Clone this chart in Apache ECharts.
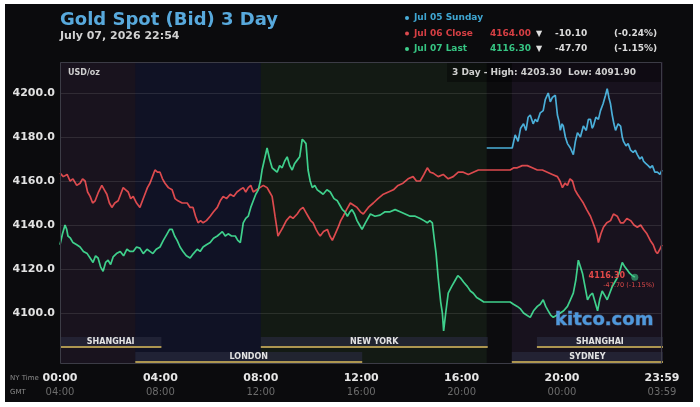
<!DOCTYPE html>
<html><head><meta charset="utf-8">
<script src="https://cdn.jsdelivr.net/npm/echarts@6/dist/echarts.min.js"></script>
<style>body{margin:0;background:#fff}#bg{position:absolute;left:5px;top:4px;width:688px;height:398px;background:#0b0b0d}#c{position:absolute;left:0;top:0;width:700px;height:407px}</style>
</head><body><div id="bg"></div><div id="c"></div>
<script>
// ---- data (minutes from NY 00:00, price USD/oz) ----
const blueT = [1020,1081,1088,1095,1101,1108,1114,1119,1124,1131,1136,1141,1148,1155,1160,1167,1172,1177,1184,1189,1193,1196,1200,1203,1208,1213,1220,1227,1232,1237,1244,1251,1258,1263,1268,1272,1275,1281,1287,1292,1298,1304,1308,1312,1316,1320,1324,1328,1334,1340,1344,1347,1353,1358,1364,1370,1375,1380,1386,1391,1395,1400,1406,1411,1416,1422,1428,1434,1439];
const blueV = [4175,4175,4181,4178,4184,4186,4183,4189,4190,4186,4188,4187,4191,4192,4197,4200,4196,4198,4199,4190,4187,4183,4186,4185,4180,4177,4175,4172,4178,4182,4180,4185,4183,4188,4188,4184,4185,4189,4188,4192,4195,4199,4202,4198,4195,4190,4186,4183,4186,4185,4180,4178,4176,4177,4174,4173,4174,4172,4170,4171,4169,4168,4167,4166,4167,4164,4164,4163,4165];

const redT = [0,8,17,24,31,40,48,54,60,66,72,78,84,92,100,106,112,118,124,131,139,145,151,157,163,169,175,183,191,197,203,209,215,221,227,233,239,245,251,259,268,275,282,292,298,304,311,318,324,330,336,342,350,359,367,376,383,390,398,407,415,423,430,438,444,450,456,462,470,478,486,495,501,507,511,514,518,521,527,533,541,550,557,567,574,581,587,593,599,605,612,618,622,630,639,645,651,658,665,671,677,685,694,702,710,718,725,737,749,760,773,785,797,808,820,832,844,852,861,870,878,885,892,904,916,928,940,952,964,976,988,1000,1012,1076,1085,1093,1105,1117,1129,1141,1153,1165,1177,1189,1195,1201,1207,1213,1219,1225,1231,1237,1244,1251,1259,1268,1274,1280,1284,1287,1293,1299,1307,1316,1323,1332,1340,1347,1355,1364,1372,1380,1388,1395,1403,1411,1418,1424,1428,1434,1439];
const redV = [4163.6,4162,4163,4160,4161,4158,4159,4161,4160,4155,4153,4150,4151,4155,4158,4156,4154,4150,4148,4150,4151,4154,4157,4156,4155,4152,4153,4150,4148,4151,4154,4157,4159,4162,4165,4164,4164,4161,4159,4157,4156,4152,4151,4150,4150,4150,4148,4148,4144,4141,4142,4141,4142,4144,4146,4148,4151,4153,4152,4154,4153,4155,4156,4157,4155,4157,4158,4155,4156,4157,4158,4157,4155,4153,4148,4144,4139,4135,4137,4139,4142,4144,4143,4145,4147,4148,4146,4144,4142,4141,4138,4136,4135,4137,4138,4135,4133,4136,4139,4142,4144,4147,4150,4149,4148,4146,4145,4148,4150,4152,4154,4155,4156,4158,4159,4161,4162,4160,4160,4163,4166,4164,4163.6,4162,4163,4161,4162,4164,4164,4163,4164,4165,4165,4165,4166,4166,4167,4167,4166,4165,4165,4164,4163,4162,4160,4157,4159,4158,4161,4160,4156,4154,4152,4150,4147,4144,4141,4138,4135,4132,4136,4139,4141,4142,4145,4144,4141,4141,4143,4142,4140,4139,4140,4138,4136,4133,4131,4128,4127,4129,4131];

const greenT = [0,6,12,16,19,25,31,40,48,56,65,72,79,85,91,97,103,109,115,121,127,135,144,152,160,167,175,183,191,199,208,215,222,230,239,247,256,262,268,274,280,287,294,302,311,319,328,335,342,350,359,367,376,382,388,395,402,410,419,425,431,435,438,444,450,456,462,468,474,479,483,489,495,501,507,513,519,525,531,537,543,549,555,561,567,573,579,584,588,593,598,603,609,615,622,629,638,646,655,663,669,675,681,687,693,698,704,710,716,722,730,742,753,765,777,789,801,813,825,837,849,861,870,878,884,890,895,899,904,910,914,917,922,928,936,945,951,957,965,974,981,988,996,1005,1013,1021,1076,1084,1093,1100,1108,1116,1124,1132,1141,1148,1155,1161,1167,1173,1179,1187,1196,1204,1213,1220,1227,1233,1239,1244,1249,1255,1261,1267,1273,1279,1285,1290,1296,1302,1308,1314,1320,1326,1332,1338,1344,1350,1356,1362,1368,1374];
const greenV = [4131,4136,4140,4138,4135,4134,4132,4131,4130,4128,4127,4125,4123,4126,4125,4121,4119,4123,4124,4122,4125.5,4127,4128,4126,4129,4128,4128,4130,4129.5,4127,4129,4128,4127,4129,4130,4133,4136,4138,4138,4135,4133,4130,4128,4126,4125,4127,4129,4128,4130,4131,4132,4134,4135,4136,4137,4135,4136,4135,4135,4133,4132,4137,4141,4143,4144,4148,4151,4154,4156,4160,4165,4170,4175,4170,4166,4165,4164,4167,4166,4169,4171,4167,4165,4168,4169.5,4171,4179,4178,4177,4165,4160,4157,4158,4156,4155,4154,4156,4155,4152,4151,4149,4147,4146,4144,4146,4147,4145,4142,4140,4138,4141,4145,4144,4144.5,4146,4146,4147,4146,4145,4144,4144,4143,4142,4141,4142,4141,4133,4127,4116,4105,4100,4091.9,4100,4109,4112,4115,4117,4116,4114,4112,4110,4109,4107,4106,4105,4105,4105,4104,4103,4102,4100,4099,4098,4101,4103,4104,4106,4103,4101,4099,4098,4099,4100,4101,4103,4106,4109,4115,4124,4121,4118,4112,4106,4108,4109,4105,4101,4106,4110,4108,4106,4109,4112,4114,4116,4119,4123,4121,4119.5,4118,4117,4116.3];

const seriesNames = ['Jul 05 Sunday', 'Jul 06 Close', 'Jul 07 Last'];
const legendPrices = ['', '4164.00', '4116.30'];
const legendChanges = ['', '-10.10', '-47.70'];
const legendPcts = ['', '(-0.24%)', '(-1.15%)'];
const lastLabel = ['4116.30', '-47.70 (-1.15%)'];
const highLowText = '3 Day - High: 4203.30  Low: 4091.90';

const yTicks = [4100, 4120, 4140, 4160, 4180, 4200];
const xTickStep = 240;

const sessionNames = ['SHANGHAI', 'LONDON', 'NEW YORK', 'SYDNEY', 'SHANGHAI'];
const sessionStart = [0, 180, 480, 1080, 1140];
const sessionEnd = [240, 720, 1020, 1439, 1439];
const sessionRow = [0, 1, 0, 1, 0];

const zoneStart = [0, 180, 480, 1020, 1080];
const zoneEnd = [180, 480, 1020, 1080, 1439];
const zoneColors = ['#19131e', '#101225', '#131a14', '#0c0c0e', '#18121e'];

const colBlue = '#4aaed8', colRed = '#dc4a4e', colGreen = '#3fd08c';
const FONT = 'DejaVu Sans';

const zip = (t, v) => t.map((x, i) => [x, v[i]]);
const hhmm = m => String(Math.floor(m / 60) % 24).padStart(2, '0') + ':' + String(m % 60).padStart(2, '0');

const PLOT_TOP = 62, PLOT_BOT = 363;

const chart = echarts.init(document.getElementById('c'), null, {renderer: 'canvas'});

const legendGraphics = [];
const legendCols = [colBlue, colRed, colGreen];
const legendTextCols = ['#3fa6d2', '#d63f44', '#36c583'];
seriesNames.forEach((n, i) => {
  const y = 18 + i * 15.5;
  legendGraphics.push({type: 'circle', shape: {cx: 407, cy: y, r: 2}, style: {fill: legendCols[i]}, z: 20});
  legendGraphics.push({type: 'text', x: 414, y: y, style: {text: n, fill: legendTextCols[i], font: 'bold 9px ' + FONT, textVerticalAlign: 'middle'}, z: 20});
  if (legendPrices[i]) {
    legendGraphics.push({type: 'text', x: 490, y: y, style: {text: legendPrices[i], fill: legendTextCols[i], font: 'bold 9px ' + FONT, textVerticalAlign: 'middle'}, z: 20});
    legendGraphics.push({type: 'text', x: 536, y: y, style: {text: '▼', fill: '#e0e0e0', font: 'bold 8px ' + FONT, textVerticalAlign: 'middle'}, z: 20});
    legendGraphics.push({type: 'text', x: 555, y: y, style: {text: legendChanges[i], fill: '#dcdcdc', font: 'bold 9px ' + FONT, textVerticalAlign: 'middle'}, z: 20});
    legendGraphics.push({type: 'text', x: 614, y: y, style: {text: legendPcts[i], fill: '#dcdcdc', font: 'bold 9px ' + FONT, textVerticalAlign: 'middle'}, z: 20});
  }
});

const lastPt = [greenT[greenT.length - 1], greenV[greenV.length - 1]];

const option = {
  animation: false,
  title: {
    text: 'Gold Spot (Bid) 3 Day', subtext: 'July 07, 2026 22:54', left: 55, top: 6, itemGap: 2,
    textStyle: {fontSize: 18, fontWeight: 'bold', color: '#58a9dc', fontFamily: FONT},
    subtextStyle: {fontSize: 11, fontWeight: 'bold', color: '#d2d2d2', fontFamily: FONT}
  },
  grid: {left: 60, right: 38, top: PLOT_TOP, height: 295, show: false},
  xAxis: {
    type: 'value', min: 0, max: 1439, interval: xTickStep,
    axisLine: {show: false}, axisTick: {show: false},
    splitLine: {show: true, lineStyle: {color: 'rgba(255,255,255,0.09)'}},
    minorTick: {show: false, splitNumber: 4},
    minorSplitLine: {show: true, lineStyle: {color: 'rgba(255,255,255,0.045)'}},
    axisLabel: {
      margin: 14,
      formatter: v => '{a|' + hhmm(v) + '}\n{b|' + hhmm((v + 240) % 1440) + '}',
      rich: {
        a: {fontSize: 11, fontWeight: 'bold', color: '#e6e6e6', fontFamily: FONT, lineHeight: 14},
        b: {fontSize: 10, color: '#6c6c6c', fontFamily: FONT, lineHeight: 14}
      }
    }
  },
  yAxis: {
    type: 'value', min: 4080, max: 4214.1, interval: 20,
    axisLine: {show: false}, axisTick: {show: false}, splitLine: {show: false},
    axisLabel: {
      margin: 5, fontSize: 11, fontWeight: 'bold', color: '#e2e2e2', fontFamily: FONT,
      showMaxLabel: false,
      formatter: v => (yTicks.indexOf(v) >= 0 ? v.toFixed(1) : '')
    }
  },
  graphic: [
    {type: 'rect', shape: {x: 447, y: 63, width: 214, height: 19}, style: {fill: 'rgba(0,0,0,0.35)'}, z: 15},
    {type: 'text', x: 452, y: 73, style: {text: highLowText, fill: '#cfcfcf', font: 'bold 9px ' + FONT, textVerticalAlign: 'middle'}, z: 20},
    {type: 'text', x: 68, y: 73, style: {text: 'USD/oz', fill: '#cfcfcf', font: 'bold 8px ' + FONT, textVerticalAlign: 'middle'}, z: 20},
    {type: 'text', x: 10, y: 378, style: {text: 'NY Time', fill: '#8a8a8a', font: '7px ' + FONT, textVerticalAlign: 'middle'}, z: 20},
    {type: 'text', x: 10, y: 392, style: {text: 'GMT', fill: '#8a8a8a', font: '7px ' + FONT, textVerticalAlign: 'middle'}, z: 20},
    {type: 'text', x: 555, y: 320, style: {text: 'kitco.com', fill: '#4e98dc', font: 'bold 18px ' + FONT, textVerticalAlign: 'middle', stroke: 'rgba(150,200,255,0.35)', lineWidth: 1}, z: 20},
    {type: 'rect', shape: {x: 60.5, y: PLOT_TOP + 0.5, width: 601, height: PLOT_BOT - PLOT_TOP}, style: {fill: 'none', stroke: '#3c3c46', lineWidth: 1}, z: 20}
  ].concat(legendGraphics),
  series: [
    {
      type: 'custom', z: 0, silent: true, clip: false,
      data: zoneStart.map((s, i) => [s, zoneEnd[i], 4150]),
      encode: {x: [0, 1], y: 2},
      renderItem: (params, api) => {
        const x1 = api.coord([api.value(0), 4150])[0];
        const x2 = api.coord([api.value(1), 4150])[0];
        return {type: 'rect', shape: {x: x1, y: PLOT_TOP, width: x2 - x1 + 1, height: PLOT_BOT - PLOT_TOP}, style: {fill: zoneColors[params.dataIndex]}};
      }
    },
    {
      type: 'line', name: seriesNames[0], data: zip(blueT, blueV), showSymbol: false, z: 3,
      lineStyle: {color: colBlue, width: 1.7}, itemStyle: {color: colBlue}
    },
    {
      type: 'line', name: seriesNames[1], data: zip(redT, redV), showSymbol: false, z: 3,
      lineStyle: {color: colRed, width: 1.7}, itemStyle: {color: colRed}
    },
    {
      type: 'line', name: seriesNames[2], data: zip(greenT, greenV), showSymbol: false, z: 4,
      lineStyle: {color: colGreen, width: 1.7}, itemStyle: {color: colGreen},
      markLine: {
        silent: true, symbol: ['none', 'none'], label: {show: false},
        lineStyle: {color: 'rgba(255,255,255,0.10)', type: 'solid', width: 1},
        data: yTicks.map(v => ({yAxis: v}))
      },
      markPoint: {
        silent: true,
        data: [
          {coord: lastPt, symbol: 'circle', symbolSize: 7,
            itemStyle: {color: 'rgba(63,208,140,0.55)'},
            label: {show: true, formatter: lastLabel[0], color: '#e04848', fontSize: 8, fontWeight: 'bold', fontFamily: FONT, offset: [-28, -1]}},
          {coord: lastPt, symbol: 'circle', symbolSize: 1,
            itemStyle: {color: 'rgba(0,0,0,0)'},
            label: {show: true, formatter: lastLabel[1], color: '#d84848', fontSize: 6.5, fontFamily: FONT, offset: [-6, 8]}}
        ]
      }
    },
    {
      type: 'custom', z: 6, silent: true, clip: false,
      data: sessionStart.map((s, i) => [s, sessionEnd[i], 4150]),
      encode: {x: [0, 1], y: 2},
      renderItem: (params, api) => {
        const i = params.dataIndex;
        const x1 = api.coord([api.value(0), 4150])[0];
        const x2 = api.coord([api.value(1), 4150])[0] + 1;
        const yLine = sessionRow[i] === 0 ? 347 : 362;
        return {type: 'group', children: [
          {type: 'rect', shape: {x: x1, y: yLine - 10, width: x2 - x1, height: 10}, style: {fill: 'rgba(40,42,60,0.7)'}},
          {type: 'rect', shape: {x: x1, y: yLine - 1, width: x2 - x1, height: 2}, style: {fill: '#ad9650'}},
          {type: 'text', x: (x1 + x2) / 2, y: yLine - 5.5, style: {text: sessionNames[i], fill: '#e2e2e2', font: 'bold 8px ' + FONT, textAlign: 'center', textVerticalAlign: 'middle'}}
        ]};
      }
    }
  ]
};
chart.setOption(option);
</script></body></html>
